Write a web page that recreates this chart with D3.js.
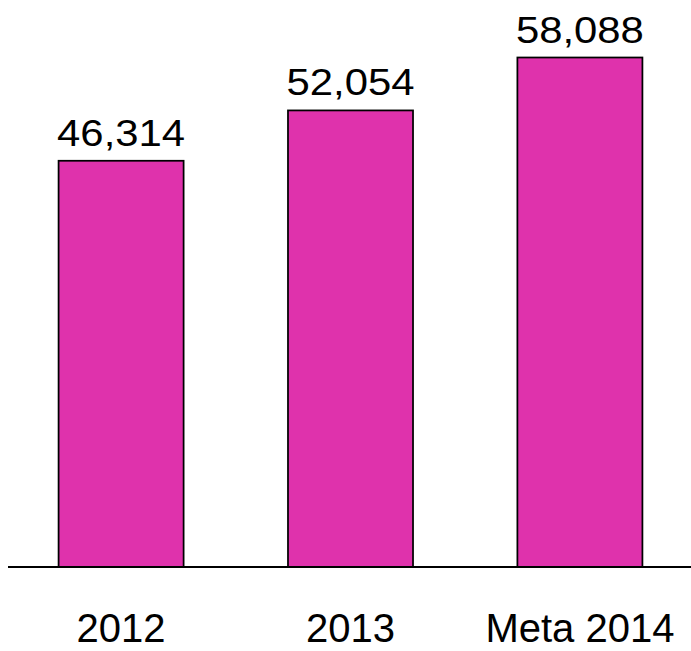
<!DOCTYPE html>
<html>
<head>
<meta charset="utf-8">
<script src="https://cdn.jsdelivr.net/npm/d3@7"></script>
<style>
  html, body { margin: 0; padding: 0; background: #ffffff; }
  svg { display: block; }
  text { font-family: "Liberation Sans", Arial, sans-serif; fill: #000; }
</style>
</head>
<body>
<svg id="chart" width="691" height="651"></svg>
<script>
// Data
const categories = ["2012", "2013", "Meta 2014"];
const values = [46314, 52054, 58088];
const valueLabels = ["46,314", "52,054", "58,088"];

const width = 691, height = 651;
const baseline = 567;
const barColor = "#DF32AC";

const svg = d3.select("#chart");

const x = d3.scaleBand()
  .domain(categories)
  .range([12.7, 688.3])
  .paddingInner(0.455)
  .paddingOuter(0.2);

const y = d3.scaleLinear()
  .domain([0, d3.max(values)])
  .range([baseline, 57.5]);

const data = categories.map((c, i) => ({ cat: c, value: values[i], label: valueLabels[i] }));

// Bars
svg.append("g")
  .selectAll("rect")
  .data(data)
  .join("rect")
  .attr("x", d => x(d.cat))
  .attr("y", d => y(d.value))
  .attr("width", x.bandwidth())
  .attr("height", d => baseline - y(d.value))
  .attr("fill", barColor)
  .attr("stroke", "#000")
  .attr("stroke-width", 1.75);

// Value labels above bars
svg.append("g")
  .selectAll("text")
  .data(data)
  .join("text")
  .attr("x", d => x(d.cat) + x.bandwidth() / 2)
  .attr("y", d => y(d.value) - 15)
  .attr("text-anchor", "middle")
  .attr("font-size", 36)
  .attr("textLength", 128)
  .attr("lengthAdjust", "spacingAndGlyphs")
  .text(d => d.label);

// Baseline axis
const axis = d3.axisBottom(x).tickSize(0).tickPadding(0);
const gx = svg.append("g")
  .attr("transform", `translate(0,${baseline})`)
  .call(axis);
gx.select(".domain").remove();
gx.append("line")
  .attr("x1", 8).attr("x2", width)
  .attr("y1", 0).attr("y2", 0)
  .attr("stroke", "#000")
  .attr("stroke-width", 2);
gx.selectAll(".tick text")
  .attr("y", 75)
  .attr("dy", null)
  .attr("font-size", 40)
  .attr("font-family", "Liberation Sans, Arial, sans-serif")
  .attr("fill", "#000");
</script>
</body>
</html>
